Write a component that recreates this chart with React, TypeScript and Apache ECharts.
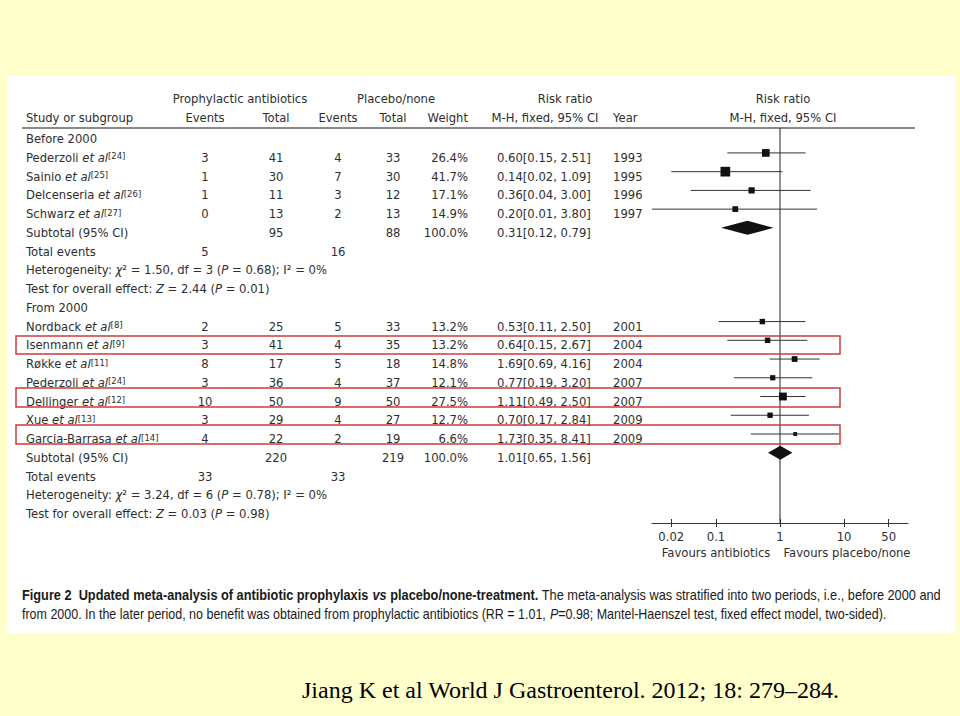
import React, { useEffect, useRef } from "react";
import * as echarts from "echarts";

// ---------- data ----------
const studyNames = ["Pederzoli", "Sainio", "Delcenseria", "Schwarz", "Nordback", "Isenmann", "Røkke", "Pederzoli", "Dellinger", "Xue", "Garcia-Barrasa"];
const studyRefs = ["24", "25", "26", "27", "8", "9", "11", "24", "12", "13", "14"];
const studyRows = [1, 2, 3, 4, 10, 11, 12, 13, 14, 15, 16];
const abxEvents = [3, 1, 1, 0, 2, 3, 8, 3, 10, 3, 4];
const abxTotal = [41, 30, 11, 13, 25, 41, 17, 36, 50, 29, 22];
const plcEvents = [4, 7, 3, 2, 5, 4, 5, 4, 9, 4, 2];
const plcTotal = [33, 30, 12, 13, 33, 35, 18, 37, 50, 27, 19];
const weights = [26.4, 41.7, 17.1, 14.9, 13.2, 13.2, 14.8, 12.1, 27.5, 12.7, 6.6];
const riskRatio = [0.6, 0.14, 0.36, 0.2, 0.53, 0.64, 1.69, 0.77, 1.11, 0.7, 1.73];
const ciLow = [0.15, 0.02, 0.04, 0.01, 0.11, 0.15, 0.69, 0.19, 0.49, 0.17, 0.35];
const ciHigh = [2.51, 1.09, 3.0, 3.8, 2.5, 2.67, 4.16, 3.2, 2.5, 2.84, 8.41];
const years = [1993, 1995, 1996, 1997, 2001, 2004, 2004, 2007, 2007, 2009, 2009];

const subgroupLabels = ["Before 2000", "From 2000"];
const subgroupRows = [0, 9];
const subtotalRows = [5, 17];
const subAbxTotal = [95, 220];
const subPlcTotal = [88, 219];
const subWeight = [100.0, 100.0];
const subRR = [0.31, 1.01];
const subLow = [0.12, 0.65];
const subHigh = [0.79, 1.56];
const subAbxEvents = [5, 33];
const subPlcEvents = [16, 33];
const hetChi2 = ["1.50", "3.24"];
const hetDf = [3, 6];
const hetP = ["0.68", "0.78"];
const hetI2 = [0, 0];
const overallZ = ["2.44", "0.03"];
const overallP = ["0.01", "0.98"];

const highlightRowSpans = [[10.5, 11.46], [13.27, 14.29], [15.25, 16.26]];

const tickValues = [0.02, 0.1, 1, 10, 50];
const tickLabels = ["0.02", "0.1", "1", "10", "50"];
const axisMinValue = 0.01;
const axisMaxValue = 100;
const nullEffect = 1;

// ---------- layout ----------
const GRID = { left: 652, top: 128, width: 256, height: 395 };
const Y_MIN = -0.6;
const Y_MAX = 20.48;
const MARK_SHIFT = -0.27;
const FONT = "'DejaVu Sans', Verdana, sans-serif";
const CAPFONT = "'Liberation Sans', Arial, Helvetica, sans-serif";
const FS = 11.6;
const TXT = "#2e2e2e";

const rowY = (r: number) => GRID.top + ((r - Y_MIN) * GRID.height) / (Y_MAX - Y_MIN);

const COL = {
  name: 26,
  abxEv: 205,
  abxTot: 276,
  plcEv: 338,
  plcTot: 393,
  weight: 468,
  rr: 497,
  year: 613,
};

const richBase = {
  n: { fontSize: FS, fontFamily: FONT, fill: TXT },
  i: { fontSize: FS, fontFamily: FONT, fill: TXT, fontStyle: "italic" },
  s: { fontSize: 8.5, fontFamily: FONT, fill: TXT, verticalAlign: "top" },
};

function txt(x: number, y: number, text: string, align = "left", extra: any = {}) {
  return {
    type: "text",
    x,
    y,
    silent: true,
    style: { text, fill: TXT, fontSize: FS, fontFamily: FONT, align, verticalAlign: "middle", ...extra },
  };
}
function rich(x: number, y: number, text: string) {
  return {
    type: "text",
    x,
    y,
    silent: true,
    style: { text, rich: richBase, fill: TXT, fontSize: FS, fontFamily: FONT, align: "left", verticalAlign: "middle" },
  };
}

const fmtCI = (e: number, l: number, h: number) => `${e.toFixed(2)}[${l.toFixed(2)}, ${h.toFixed(2)}]`;

function measure(parts: [string, string][]) {
  const c = document.createElement("canvas").getContext("2d");
  if (!c) return 1;
  let w = 0;
  for (const [font, t] of parts) {
    c.font = font;
    w += c.measureText(t).width;
  }
  return w;
}

function buildGraphics() {
  const g: any[] = [];
  // white panel
  g.push({ type: "rect", z: -5, silent: true, shape: { x: 7, y: 76, width: 948, height: 557 }, style: { fill: "#ffffff" } });

  // headers
  g.push(txt(240, 99, "Prophylactic antibiotics", "center"));
  g.push(txt(396, 99, "Placebo/none", "center"));
  g.push(txt(565, 99, "Risk ratio", "center"));
  g.push(txt(783, 99, "Risk ratio", "center"));
  g.push(txt(COL.name, 118, "Study or subgroup"));
  g.push(txt(COL.abxEv, 118, "Events", "center"));
  g.push(txt(COL.abxTot, 118, "Total", "center"));
  g.push(txt(COL.plcEv, 118, "Events", "center"));
  g.push(txt(COL.plcTot, 118, "Total", "center"));
  g.push(txt(COL.weight, 118, "Weight", "right"));
  g.push(txt(545, 118, "M-H, fixed, 95% CI", "center"));
  g.push(txt(COL.year, 118, "Year"));
  g.push(txt(783, 118, "M-H, fixed, 95% CI", "center"));
  g.push({ type: "line", silent: true, shape: { x1: 22, y1: 128, x2: 915, y2: 128 }, style: { stroke: "#8a8a8a", lineWidth: 2 } });

  // studies
  studyNames.forEach((nm, i) => {
    const y = rowY(studyRows[i]);
    g.push(rich(COL.name, y, `{n|${nm} }{i|et al}{s|[${studyRefs[i]}]}`));
    g.push(txt(COL.abxEv, y, String(abxEvents[i]), "center"));
    g.push(txt(COL.abxTot, y, String(abxTotal[i]), "center"));
    g.push(txt(COL.plcEv, y, String(plcEvents[i]), "center"));
    g.push(txt(COL.plcTot, y, String(plcTotal[i]), "center"));
    g.push(txt(COL.weight, y, `${weights[i].toFixed(1)}%`, "right"));
    g.push(txt(COL.rr, y, fmtCI(riskRatio[i], ciLow[i], ciHigh[i])));
    g.push(txt(COL.year, y, String(years[i])));
  });

  // subgroups
  subgroupLabels.forEach((lab, k) => {
    g.push(txt(COL.name, rowY(subgroupRows[k]), lab));
    const ys = rowY(subtotalRows[k]);
    g.push(txt(COL.name, ys, "Subtotal (95% CI)"));
    g.push(txt(COL.abxTot, ys, String(subAbxTotal[k]), "center"));
    g.push(txt(COL.plcTot, ys, String(subPlcTotal[k]), "center"));
    g.push(txt(COL.weight, ys, `${subWeight[k].toFixed(1)}%`, "right"));
    g.push(txt(COL.rr, ys, fmtCI(subRR[k], subLow[k], subHigh[k])));
    const ye = rowY(subtotalRows[k] + 1);
    g.push(txt(COL.name, ye, "Total events"));
    g.push(txt(COL.abxEv, ye, String(subAbxEvents[k]), "center"));
    g.push(txt(COL.plcEv, ye, String(subPlcEvents[k]), "center"));
    g.push(
      rich(
        COL.name,
        rowY(subtotalRows[k] + 2),
        `{n|Heterogeneity: }{i|χ}{n|² = ${hetChi2[k]}, df = ${hetDf[k]} (}{i|P}{n| = ${hetP[k]}); I² = ${hetI2[k]}%}`
      )
    );
    g.push(rich(COL.name, rowY(subtotalRows[k] + 3), `{n|Test for overall effect: }{i|Z}{n| = ${overallZ[k]} (}{i|P}{n| = ${overallP[k]})}`));
  });

  // highlight boxes
  highlightRowSpans.forEach(([a, b]) => {
    const y1 = rowY(a);
    const y2 = rowY(b);
    g.push({
      type: "rect",
      z: 10,
      silent: true,
      shape: { x: 16, y: y1, width: 824, height: y2 - y1 },
      style: { fill: "none", stroke: "#cc3b3b", lineWidth: 1.5 },
    });
  });

  // favours
  g.push(txt(716, 553, "Favours antibiotics", "center"));
  g.push(txt(847, 553, "Favours placebo/none", "center"));

  // caption
  const CF = 14;
  const capRich = {
    b: { fontSize: CF, fontFamily: CAPFONT, fontWeight: "bold", fill: "#1a1a1a" },
    bi: { fontSize: CF, fontFamily: CAPFONT, fontWeight: "bold", fontStyle: "italic", fill: "#1a1a1a" },
    n: { fontSize: CF, fontFamily: CAPFONT, fill: "#1a1a1a" },
    i: { fontSize: CF, fontFamily: CAPFONT, fontStyle: "italic", fill: "#1a1a1a" },
  };
  const fB = `bold ${CF}px ${CAPFONT}`;
  const fBI = `italic bold ${CF}px ${CAPFONT}`;
  const fN = `${CF}px ${CAPFONT}`;
  const fI = `italic ${CF}px ${CAPFONT}`;
  const l1a = "Figure 2\u00A0 Updated meta-analysis of antibiotic prophylaxis ";
  const l1b = "vs";
  const l1c = " placebo/none-treatment.";
  const l1d = " The meta-analysis was stratified into two periods, i.e., before 2000 and";
  const w1 = measure([[fB, l1a], [fBI, l1b], [fB, l1c], [fN, l1d]]);
  g.push({
    type: "text",
    x: 22,
    y: 595,
    scaleX: 920 / w1,
    silent: true,
    style: {
      text: `{b|${l1a}}{bi|${l1b}}{b|${l1c}}{n|${l1d}}`,
      rich: capRich,
      verticalAlign: "middle",
      align: "left",
    },
  });
  const l2a = "from 2000. In the later period, no benefit was obtained from prophylactic antibiotics (RR = 1.01, ";
  const l2b = "P";
  const l2c = "=0.98; Mantel-Haenszel test, fixed effect model, two-sided).";
  const w2 = measure([[fN, l2a], [fI, l2b], [fN, l2c]]);
  g.push({
    type: "text",
    x: 22,
    y: 614,
    scaleX: 865 / w2,
    silent: true,
    style: {
      text: `{n|${l2a}}{i|${l2b}}{n|${l2c}}`,
      rich: capRich,
      verticalAlign: "middle",
      align: "left",
    },
  });

  // citation
  g.push({
    type: "text",
    x: 302,
    y: 690,
    silent: true,
    style: {
      text: "Jiang K et al World J Gastroenterol. 2012; 18: 279–284.",
      fill: "#000",
      fontSize: 24,
      fontFamily: "'Liberation Serif', 'Times New Roman', serif",
      align: "left",
      verticalAlign: "middle",
    },
  });
  return g;
}

export default function App() {
  const ref = useRef<HTMLDivElement>(null);
  useEffect(() => {
    if (!ref.current) return;
    const chart = echarts.init(ref.current, undefined, { renderer: "svg" });
    const lg = Math.log10;
    const xMin = lg(axisMinValue);
    const xMax = lg(axisMaxValue);
    const tickLogs = tickValues.map(lg);
    const labelFor = (v: number) => {
      const idx = tickLogs.findIndex((t) => Math.abs(t - v) < 1e-6);
      return idx >= 0 ? tickLabels[idx] : "";
    };
    const studyData = studyRows.map((r, i) => [lg(riskRatio[i]), Math.max(lg(ciLow[i]), xMin), Math.min(lg(ciHigh[i]), xMax), r + MARK_SHIFT, weights[i]]);
    const subData = subtotalRows.map((r, k) => [lg(subRR[k]), lg(subLow[k]), lg(subHigh[k]), r + MARK_SHIFT]);

    chart.setOption({
      animation: false,
      backgroundColor: "#ffffcc",
      grid: { left: GRID.left, top: GRID.top, width: GRID.width, height: GRID.height, containLabel: false },
      xAxis: [
        {
          type: "value",
          min: xMin,
          max: xMax,
          position: "bottom",
          axisLine: { show: true, onZero: false, lineStyle: { color: "#333", width: 1 } },
          axisTick: { show: true, inside: false, length: 4, customValues: tickLogs, lineStyle: { color: "#333" } },
          axisLabel: { show: true, customValues: tickLogs, formatter: labelFor, color: "#2e2e2e", fontSize: FS, fontFamily: FONT, margin: 8 },
          splitLine: { show: false },
        },
        {
          type: "value",
          min: xMin,
          max: xMax,
          position: "bottom",
          axisLine: { show: false, onZero: false },
          axisTick: { show: true, inside: true, length: 4, customValues: tickLogs, lineStyle: { color: "#333" } },
          axisLabel: { show: false },
          splitLine: { show: false },
        },
      ],
      yAxis: { type: "value", inverse: true, min: Y_MIN, max: Y_MAX, show: false },
      series: [
        {
          type: "line",
          data: [[lg(nullEffect), Y_MIN], [lg(nullEffect), Y_MAX]],
          showSymbol: false,
          symbol: "none",
          lineStyle: { color: "#222", width: 1 },
          silent: true,
          z: 1,
        },
        {
          type: "custom",
          data: studyData,
          encode: { x: [0, 1, 2], y: 3 },
          silent: true,
          z: 3,
          renderItem: (params: any, api: any) => {
            const y = api.value(3);
            const p = api.coord([api.value(0), y]);
            const l = api.coord([api.value(1), y]);
            const h = api.coord([api.value(2), y]);
            const s = Math.sqrt(api.value(4)) * 1.5;
            return {
              type: "group",
              children: [
                { type: "line", shape: { x1: l[0], y1: p[1], x2: h[0], y2: p[1] }, style: { stroke: "#333", lineWidth: 1 } },
                { type: "rect", shape: { x: p[0] - s / 2, y: p[1] - s / 2, width: s, height: s }, style: { fill: "#111" } },
              ],
            };
          },
        },
        {
          type: "custom",
          data: subData,
          encode: { x: [0, 1, 2], y: 3 },
          silent: true,
          z: 3,
          renderItem: (params: any, api: any) => {
            const y = api.value(3);
            const p = api.coord([api.value(0), y]);
            const l = api.coord([api.value(1), y]);
            const h = api.coord([api.value(2), y]);
            const hh = 7;
            return {
              type: "polygon",
              shape: { points: [[l[0], p[1]], [p[0], p[1] - hh], [h[0], p[1]], [p[0], p[1] + hh]] },
              style: { fill: "#111" },
            };
          },
        },
      ],
      graphic: { elements: buildGraphics() },
    });
    return () => chart.dispose();
  }, []);
  return <div ref={ref} style={{ position: "absolute", left: 0, top: 0, width: 960, height: 716 }} />;
}
